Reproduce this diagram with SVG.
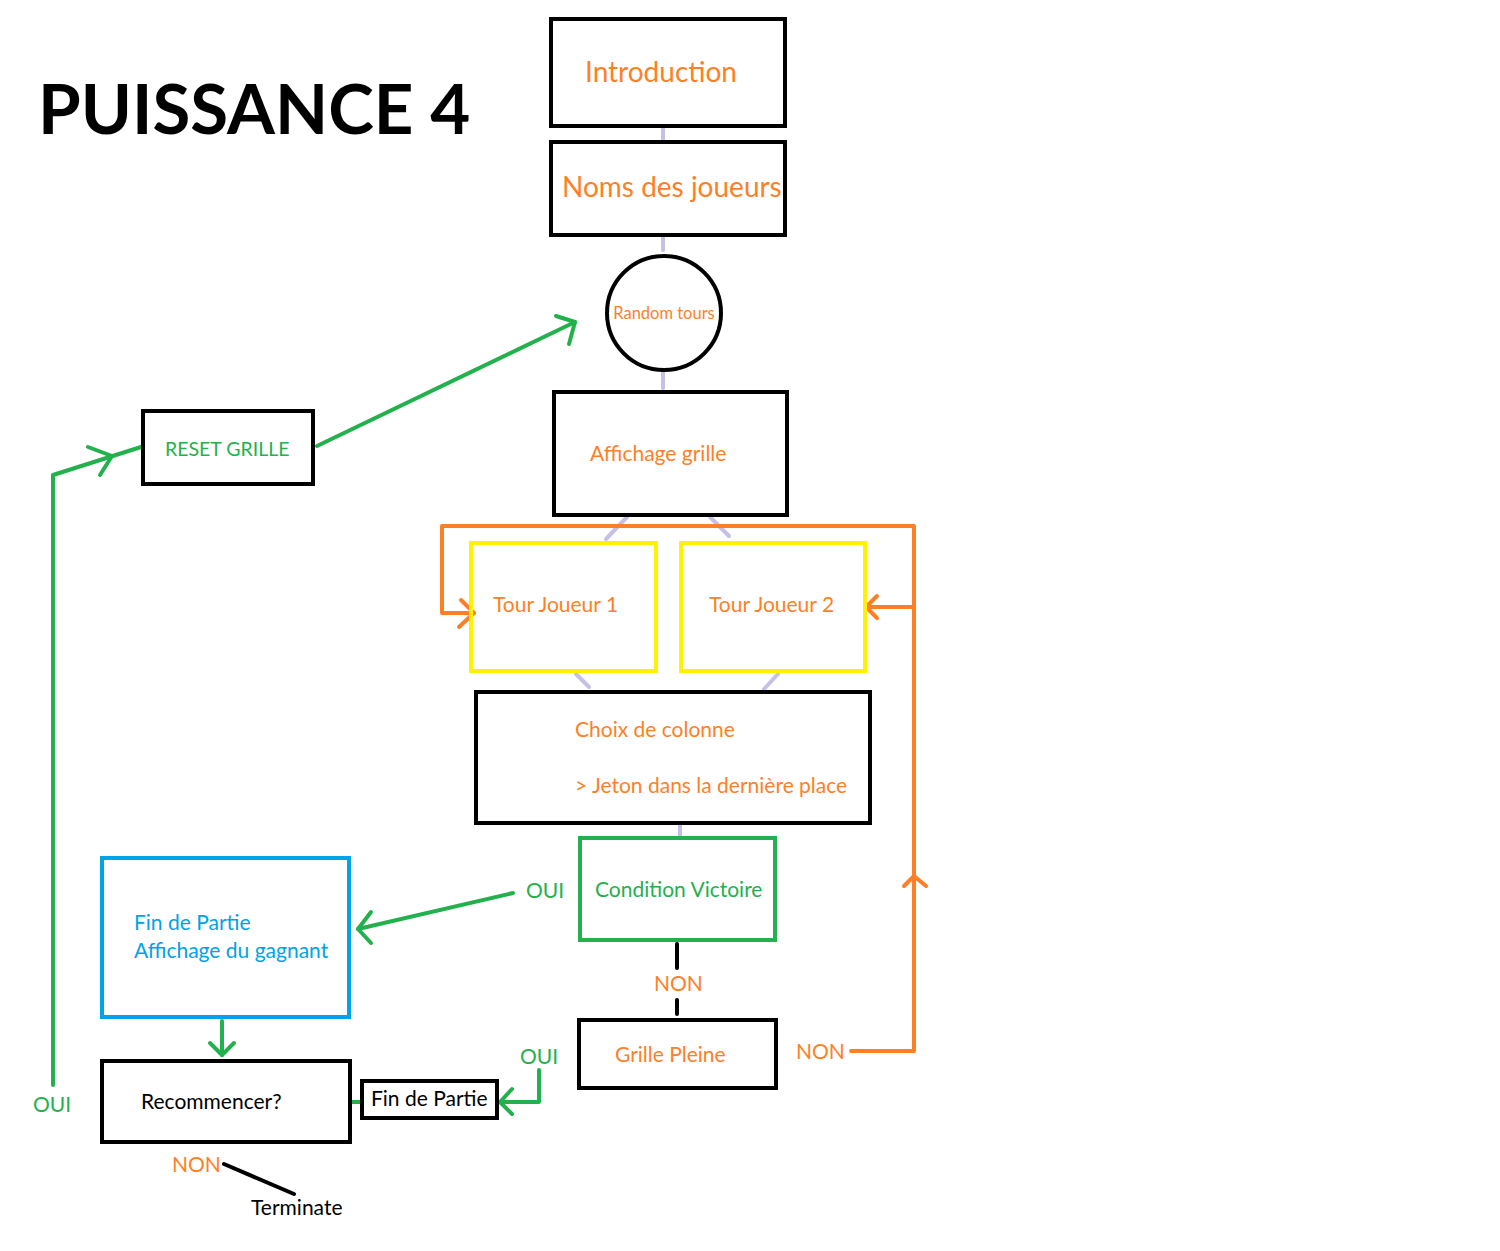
<svg xmlns="http://www.w3.org/2000/svg" width="1500" height="1251" viewBox="0 0 1500 1251">
<style>
text{font-family:Lato,"Open Sans","Liberation Sans",sans-serif}
.box{fill:none;stroke:#000;stroke-width:4}
.yb{fill:none;stroke:#fff200;stroke-width:4}
.gb{fill:none;stroke:#22b14c;stroke-width:4}
.bb{fill:none;stroke:#00a2e8;stroke-width:4}
.lav{stroke:#c8bfe7;stroke-width:4;stroke-linecap:round;fill:none}
.or{stroke:#ff7f27;stroke-width:4;fill:none;stroke-linecap:round;stroke-linejoin:round}
.gr{stroke:#22b14c;stroke-width:4;fill:none;stroke-linecap:round;stroke-linejoin:round}
.bl{stroke:#000;stroke-width:4;fill:none;stroke-linecap:round}
.to{fill:#ff7f27;font-size:21px}
.tg{fill:#22b14c;font-size:21px}
.tb{fill:#00a2e8;font-size:21px}
.tk{fill:#000;font-size:21px}
</style>
<rect width="1500" height="1251" fill="#fff"/>
<text x="38" y="134" font-size="69" font-weight="bold" fill="#000">PUISSANCE 4</text>
<g id="connectors">
<line class="lav" x1="663" y1="128" x2="663" y2="140"/>
<line class="lav" x1="663" y1="237" x2="663" y2="250"/>
<line class="lav" x1="663" y1="372" x2="663" y2="388"/>
<line class="lav" x1="627" y1="517" x2="606" y2="539"/>
<line class="lav" x1="710" y1="517" x2="729" y2="536"/>
<line class="lav" x1="576" y1="674" x2="589" y2="687"/>
<line class="lav" x1="778" y1="674" x2="764" y2="689"/>
<line class="lav" x1="680" y1="825" x2="680" y2="835"/>
<polyline class="or" points="474,613 442,613 442,526 914,526 914,1051 851,1051"/>
<polyline class="or" points="461,600 474,613 459,627"/>
<line class="or" x1="914" y1="607" x2="866" y2="607"/>
<polyline class="or" points="877,596 866,607 877,618"/>
<polyline class="or" points="904,886 914,876 926,886"/>
<line class="bl" x1="677" y1="944" x2="677" y2="968"/>
<line class="bl" x1="677" y1="1000" x2="677" y2="1014"/>
<line class="gr" x1="513" y1="893" x2="358" y2="929"/>
<polyline class="gr" points="371,912 358,929 371,943"/>
<line class="gr" x1="222" y1="1021" x2="222" y2="1055"/>
<polyline class="gr" points="210,1043 222,1055 234,1043"/>
<polyline class="gr" points="539,1070 539,1102 500,1102"/>
<polyline class="gr" points="512,1089 500,1102 512,1114"/>
<line class="gr" x1="352" y1="1102" x2="361" y2="1102"/>
<polyline class="gr" points="53,1085 53,475 141,447"/>
<polyline class="gr" points="88,447 112,456 100,475"/>
<line class="gr" x1="317" y1="446" x2="575" y2="322"/>
<polyline class="gr" points="556,316 575,322 569,344"/>
<line class="bl" x1="224" y1="1164" x2="294" y2="1194"/>
</g>
<g id="title-intro"><rect class="box" x="551" y="19" width="234" height="107"/><text x="585" y="82" fill="#ff7f27" font-size="28">Introduction</text></g>
<g id="noms"><rect class="box" x="551" y="142" width="234" height="93"/><text x="562" y="197" fill="#ff7f27" font-size="28">Noms des joueurs</text></g>
<g id="random"><circle cx="664" cy="313" r="57" fill="none" stroke="#000" stroke-width="4"/><text x="664" y="319" fill="#ff7f27" font-size="16.5" text-anchor="middle">Random tours</text></g>
<g id="affichage"><rect class="box" x="554" y="392" width="233" height="123"/><text x="590" y="461" class="to">Affichage grille</text></g>
<g id="tour1"><rect class="yb" x="471" y="543" width="185" height="128"/><text x="493" y="612" class="to">Tour Joueur 1</text></g>
<g id="tour2"><rect class="yb" x="681" y="543" width="184" height="128"/><text x="709" y="612" class="to">Tour Joueur 2</text></g>
<g id="choix"><rect class="box" x="476" y="692" width="394" height="131"/><text x="575" y="737" class="to">Choix de colonne</text><text x="575" y="793" class="to">&gt; Jeton dans la dernière place</text></g>
<g id="victoire"><rect class="gb" x="580" y="838" width="195" height="102"/><text x="595" y="897" class="tg">Condition Victoire</text></g>
<g id="pleine"><rect class="box" x="579" y="1020" width="197" height="68"/><text x="615" y="1062" class="to">Grille Pleine</text></g>
<g id="fin-gagnant"><rect class="bb" x="102" y="858" width="247" height="159"/><text x="134" y="930" class="tb">Fin de Partie</text><text x="134" y="958" class="tb">Affichage du gagnant</text></g>
<g id="recommencer"><rect class="box" x="102" y="1061" width="248" height="81"/><text x="141" y="1109" class="tk">Recommencer?</text></g>
<g id="fin-partie"><rect class="box" x="362" y="1081" width="135" height="37"/><text x="371" y="1106" class="tk">Fin de Partie</text></g>
<g id="reset"><rect class="box" x="143" y="411" width="170" height="73"/><text x="165" y="456" class="tg" style="font-size:19.5px">RESET GRILLE</text></g>
<g id="labels">
<text x="526" y="898" class="tg">OUI</text>
<text x="654" y="991" class="to">NON</text>
<text x="796" y="1059" class="to">NON</text>
<text x="520" y="1064" class="tg">OUI</text>
<text x="33" y="1112" class="tg">OUI</text>
<text x="172" y="1172" class="to">NON</text>
<text x="251" y="1215" class="tk">Terminate</text>
</g>
</svg>
